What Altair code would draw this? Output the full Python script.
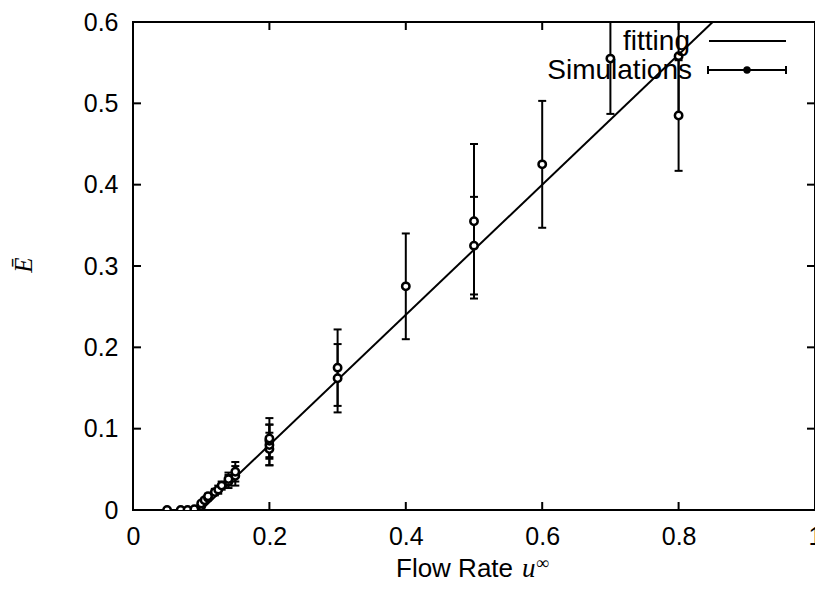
import altair as alt
import pandas as pd

# ---- data ----
u_vals = [0.05, 0.07, 0.08, 0.09, 0.10, 0.10, 0.105, 0.11, 0.11, 0.12, 0.125, 0.13, 0.14, 0.14,
          0.15, 0.15, 0.20, 0.20, 0.20, 0.20, 0.30, 0.30, 0.40, 0.50, 0.50, 0.60, 0.70, 0.80, 0.80]
E_vals = [0.0, 0.0, 0.0, 0.001, 0.005, 0.008, 0.012, 0.015, 0.017, 0.022, 0.025, 0.030, 0.035, 0.038,
          0.042, 0.047, 0.075, 0.080, 0.085, 0.088, 0.162, 0.175, 0.275, 0.325, 0.355, 0.425, 0.555, 0.485, 0.558]
err_vals = [0.0, 0.0, 0.0, 0.0, 0.002, 0.002, 0.003, 0.003, 0.003, 0.004, 0.005, 0.005, 0.008, 0.008,
            0.012, 0.012, 0.020, 0.025, 0.020, 0.025, 0.042, 0.047, 0.065, 0.060, 0.095, 0.078, 0.068, 0.068, 0.075]
fit_u = [0.1, 0.85]
fit_E = [0.0, 0.6]
x_tick_vals = [0, 0.2, 0.4, 0.6, 0.8, 1]
y_tick_vals = [0, 0.1, 0.2, 0.3, 0.4, 0.5, 0.6]
x_inner_ticks = [0.2, 0.4, 0.6, 0.8]
y_inner_ticks = [0.1, 0.2, 0.3, 0.4, 0.5]
legend_labels = ["fitting", "Simulations"]

W, H = 682, 488
SANS = "Liberation Sans"
SERIF = "Liberation Serif"

sim = pd.DataFrame({"u": u_vals, "E": E_vals, "err": err_vals})
sim["lo"] = (sim["E"] - sim["err"]).clip(lower=0)
sim["hi"] = sim["E"] + sim["err"]
fit = pd.DataFrame({"u": fit_u, "E": fit_E})
xt = pd.DataFrame({"t": x_inner_ticks})
yt = pd.DataFrame({"t": y_inner_ticks})
one = pd.DataFrame({"a": [0]})

xs = alt.Scale(domain=[0, 1], nice=False, zero=False)
ys = alt.Scale(domain=[0, 0.6], nice=False, zero=False)
xax = alt.Axis(values=x_tick_vals, format="~g", tickSize=0, domain=False, grid=False,
               labelFontSize=25, labelFont=SANS, labelColor="black", labelPadding=14,
               labelFlush=False, labelOverlap=False, title=None)
yax = alt.Axis(values=y_tick_vals, format="~g", tickSize=0, domain=False, grid=False,
               labelFontSize=25, labelFont=SANS, labelColor="black", labelPadding=15,
               labelFlush=False, labelOverlap=False, title=None)

def X(f):
    return alt.X(f, type="quantitative", scale=xs, axis=xax)

def Y(f):
    return alt.Y(f, type="quantitative", scale=ys, axis=yax)

fit_line = alt.Chart(fit).mark_line(color="black", strokeWidth=2, clip=True).encode(x=X("u"), y=Y("E"))

bars = alt.Chart(sim).mark_rule(color="black", strokeWidth=2, clip=True).encode(
    x=X("u"), y=Y("lo"), y2="hi")

caps = alt.Chart(sim).transform_fold(["lo", "hi"], as_=["k", "v"]).mark_tick(
    orient="horizontal", color="black", size=8, thickness=2, clip=True, opacity=1).encode(
    x=X("u"), y=Y("v"))

pts = alt.Chart(sim).mark_point(shape="circle", size=55, fill="white", fillOpacity=1,
                                stroke="black", strokeWidth=2.5, opacity=1, clip=True).encode(
    x=X("u"), y=Y("E"))

# inward ticks on all four sides
tb = alt.Chart(xt).mark_rule(color="black", strokeWidth=2).encode(
    x=X("t"), y=alt.value(H), y2=alt.value(H - 8))
tt = alt.Chart(xt).mark_rule(color="black", strokeWidth=2).encode(
    x=X("t"), y=alt.value(0), y2=alt.value(8))
tl = alt.Chart(yt).mark_rule(color="black", strokeWidth=2).encode(
    y=Y("t"), x=alt.value(0), x2=alt.value(8))
tr = alt.Chart(yt).mark_rule(color="black", strokeWidth=2).encode(
    y=Y("t"), x=alt.value(W - 8), x2=alt.value(W))

# legend (gnuplot style, inside top right)
lg_t1 = alt.Chart(one).mark_text(text=legend_labels[0], font=SANS, fontSize=28, align="right",
                                 baseline="middle", color="black").encode(
    x=alt.value(557), y=alt.value(20))
lg_t2 = alt.Chart(one).mark_text(text=legend_labels[1], font=SANS, fontSize=28, align="right",
                                 baseline="middle", color="black").encode(
    x=alt.value(559), y=alt.value(49))
lg_l1 = alt.Chart(one).mark_rule(color="black", strokeWidth=2).encode(
    x=alt.value(576), x2=alt.value(653), y=alt.value(19))
lg_l2 = alt.Chart(one).mark_rule(color="black", strokeWidth=2).encode(
    x=alt.value(575), x2=alt.value(653), y=alt.value(48))
lg_c1 = alt.Chart(one).mark_rule(color="black", strokeWidth=2).encode(
    x=alt.value(575), y=alt.value(44), y2=alt.value(52))
lg_c2 = alt.Chart(one).mark_rule(color="black", strokeWidth=2).encode(
    x=alt.value(653), y=alt.value(44), y2=alt.value(52))
lg_p = alt.Chart(one).mark_point(shape="circle", size=55, filled=True, color="black", opacity=1).encode(
    x=alt.value(614), y=alt.value(48))

# axis titles
xt1 = alt.Chart(one).mark_text(text="Flow Rate", font=SANS, fontSize=26, align="left",
                               baseline="alphabetic", color="black").encode(
    x=alt.value(263), y=alt.value(555))
xt2 = alt.Chart(one).mark_text(text="u", font=SERIF, fontSize=27, fontStyle="italic", align="left",
                               baseline="alphabetic", color="black").encode(
    x=alt.value(389), y=alt.value(555))
xt3 = alt.Chart(one).mark_text(text="∞", font=SERIF, fontSize=18, align="left",
                               baseline="alphabetic", color="black").encode(
    x=alt.value(403), y=alt.value(547))
ylab = alt.Chart(one).mark_text(text="Ē", font=SERIF, fontSize=25, fontStyle="italic", align="center",
                                baseline="middle", angle=270, color="black").encode(
    x=alt.value(-109), y=alt.value(243))

chart = alt.layer(
    fit_line, bars, caps, pts, tb, tt, tl, tr,
    lg_t1, lg_t2, lg_l1, lg_l2, lg_c1, lg_c2, lg_p,
    xt1, xt2, xt3, ylab
).properties(
    width=W, height=H,
    autosize=alt.AutoSizeParams(type="none"),
    padding={"left": 125, "top": 14, "right": 0, "bottom": 72},
    background="white",
).configure_view(stroke="black", strokeWidth=2)

chart.save("out.html", embed_options={"renderer": "svg", "actions": False})
